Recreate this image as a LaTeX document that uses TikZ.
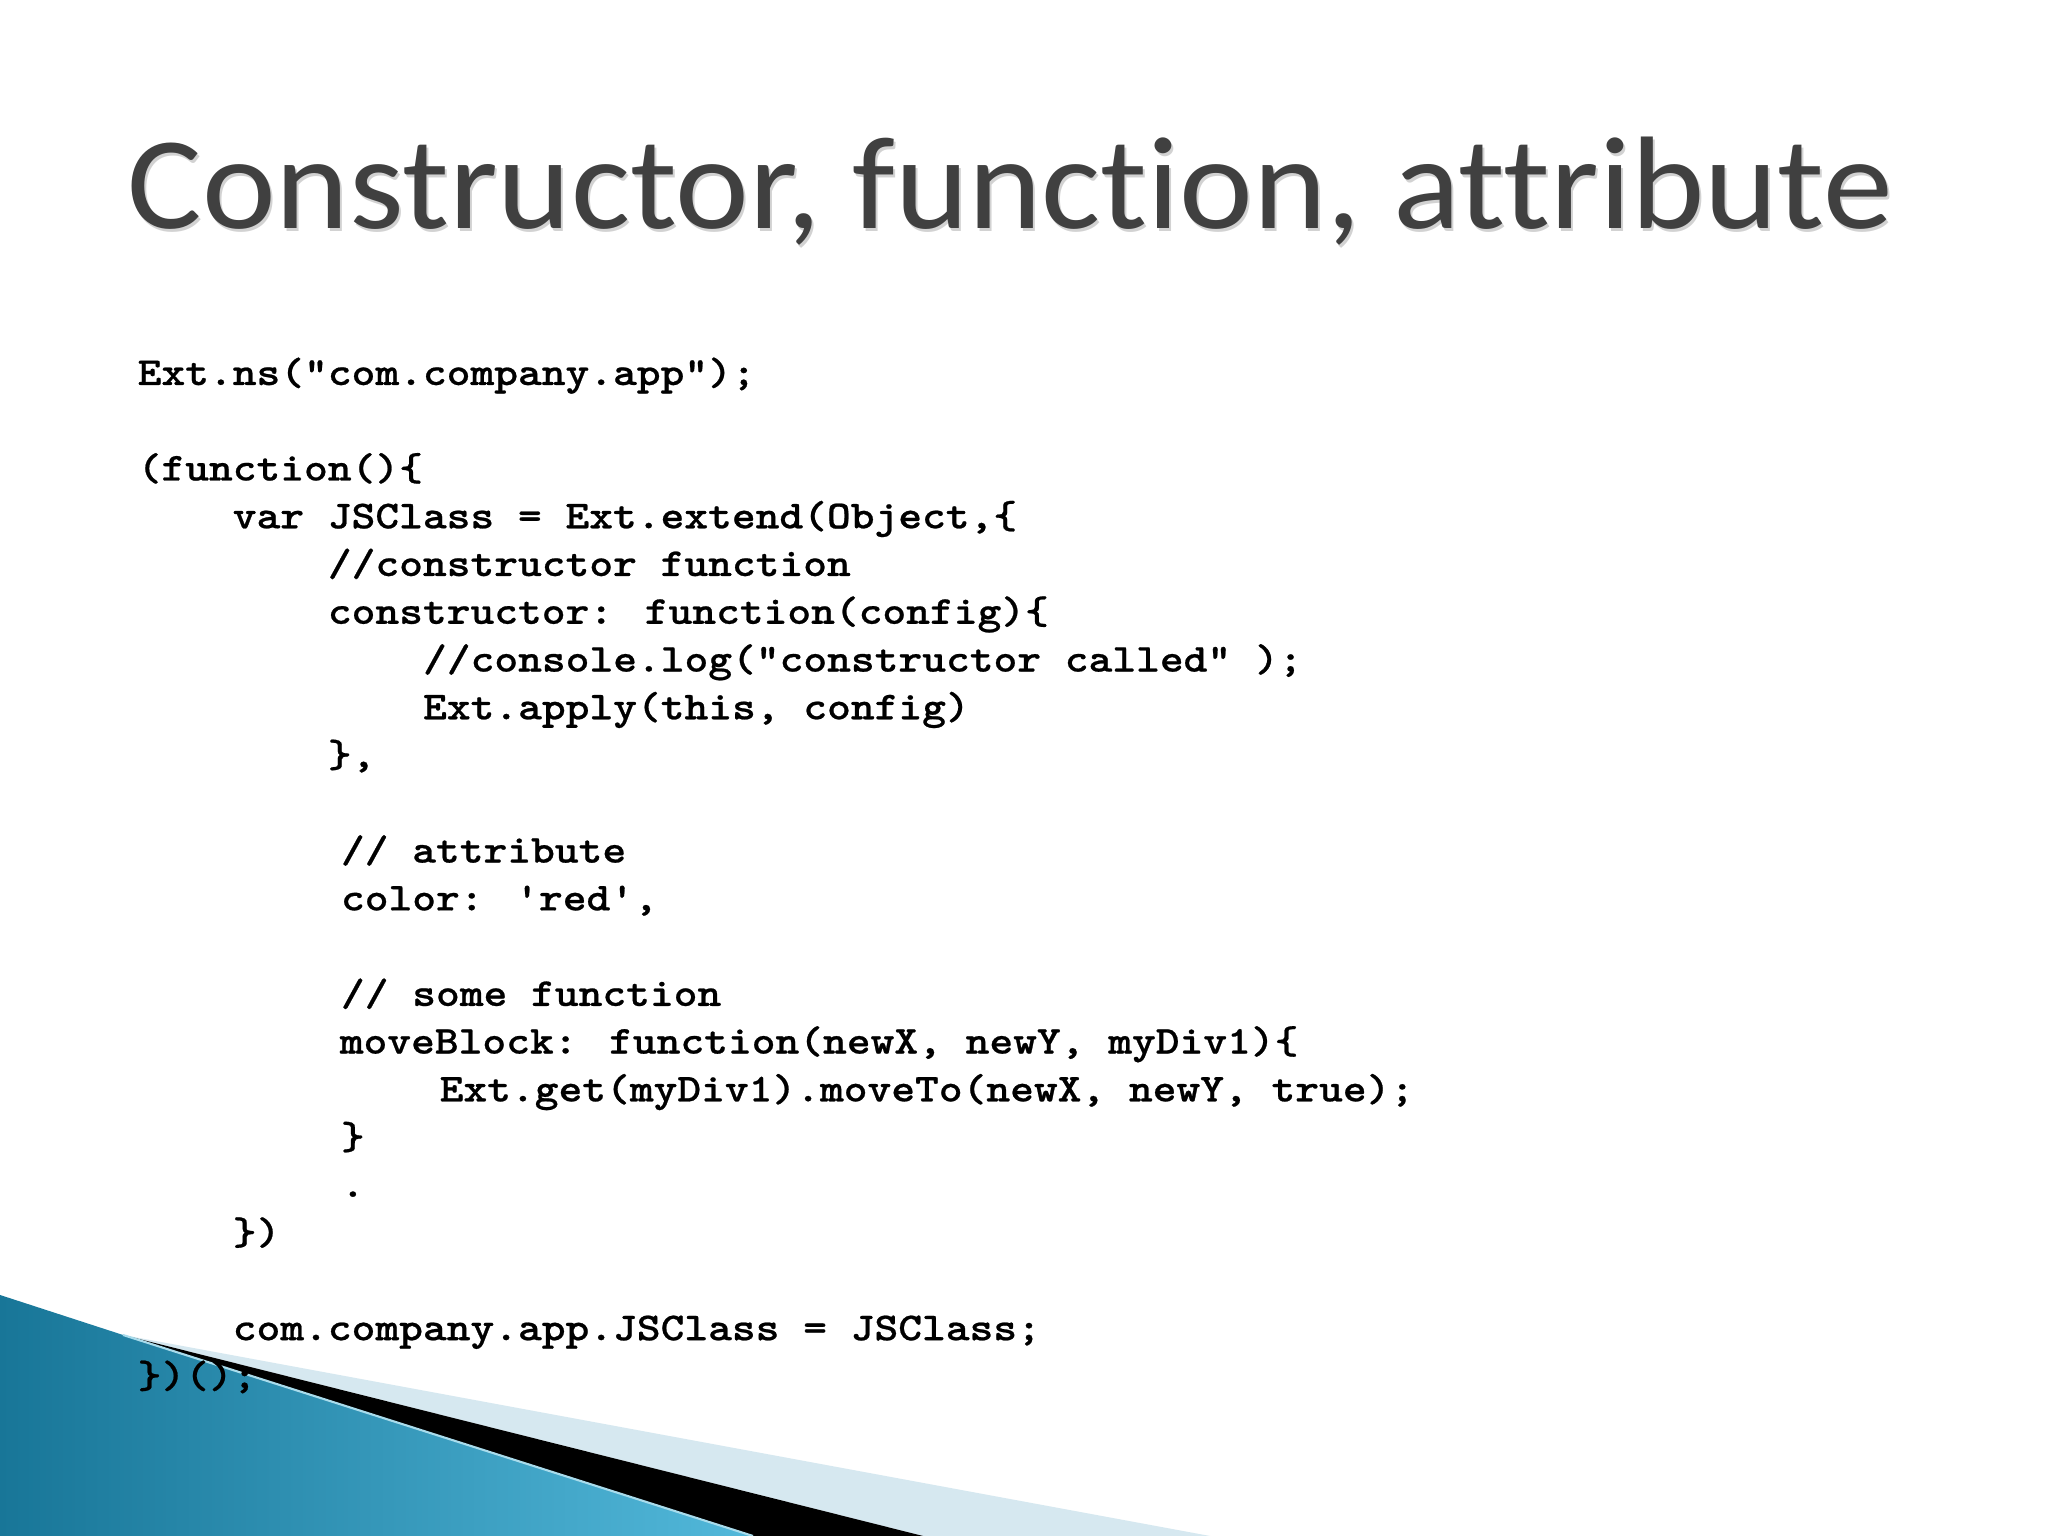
\documentclass[tikz,border=0pt]{standalone}
\usepackage{fontspec}
\newfontfamily\codefont{lmmonolt10-bold.otf}[FakeStretch=1.143,FakeBold=0.6]
\newfontfamily\titlefont{Carlito}[Ligatures=NoCommon]
\usepackage{xcolor}
\usepackage{tikz}
\usetikzlibrary{positioning}
\definecolor{titlegray}{RGB}{64,64,64}
\definecolor{tealdark}{RGB}{24,118,152}
\definecolor{teallight}{RGB}{82,184,218}
\definecolor{paleblue}{RGB}{214,232,240}
\tikzset{code/.style={anchor=base west,inner sep=0pt,text=black,font=\codefont\fontsize{11.27}{13.5}\selectfont}}
\tikzset{ttl/.style={anchor=base west,inner sep=0pt,font=\titlefont\fontsize{37.5}{46}\selectfont}}

\begin{document}
\begin{tikzpicture}
    \useasboundingbox[fill=white] (0,0) rectangle (20.48,15.36);

    % corner wedges
    \fill[paleblue] (1.23,2.01) -- (12.10,0) -- (9.23,0) -- cycle;
    \fill[black] (1.23,2.01) -- (9.23,0) -- (7.53,0) -- cycle;
    \shade[left color=tealdark,right color=teallight] (0,2.41) -- (1.23,2.01) -- (7.53,0) -- (0,0) -- cycle;
    \draw[teallight!50!white,line width=0.6pt] (1.23,2.01) -- (7.53,0);

    % title
    \node[ttl,text=gray,opacity=0.35] (ttlshadow) at (1.29,13.04) {\scalebox{1.06}[1]{Constructor, function, attribute}};
    \node[ttl,text=titlegray] (ttl) at (1.27,13.07) {\scalebox{1.06}[1]{Constructor, function, attribute}};

    % code lines
    \node[code] (ns) at (1.37,11.51) {Ext.ns("com.company.app");};
    \node[code] (fn) at (1.37,10.555) {(function()\{};
    \node[code] (cls) at (2.321,10.077) {var JSClass = Ext.extend(Object,\{};
    \node[code] (cmt1) at (3.272,9.600) {//constructor function};
    \node[code] (ctor) at (3.272,9.122) {constructor: function(config)\{};
    \node[code] (log) at (4.224,8.644) {//console.log("constructor called" );};
    \node[code] (apply) at (4.224,8.167) {Ext.apply(this, config)};
    \node[code] (ctorend) at (3.272,7.689) {\},};
    \node[code] (cmt2) at (3.403,6.734) {// attribute};
    \node[code] (color) at (3.403,6.256) {color: 'red',};
    \node[code] (cmt3) at (3.403,5.301) {// some function};
    \node[code] (move) at (3.391,4.824) {moveBlock: function(newX, newY, myDiv1)\{};
    \node[code] (get) at (4.390,4.346) {Ext.get(myDiv1).moveTo(newX, newY, true);};
    \node[code] (moveend) at (3.403,3.868) {\}};
    \node[code] (dot) at (3.403,3.391) {.};
    \node[code] (clsend) at (2.321,2.913) {\})};
    \node[code] (assign) at (2.321,1.958) {com.company.app.JSClass = JSClass;};
    \node[code] (fnend) at (1.37,1.480) {\})();};
\end{tikzpicture}
\end{document}
